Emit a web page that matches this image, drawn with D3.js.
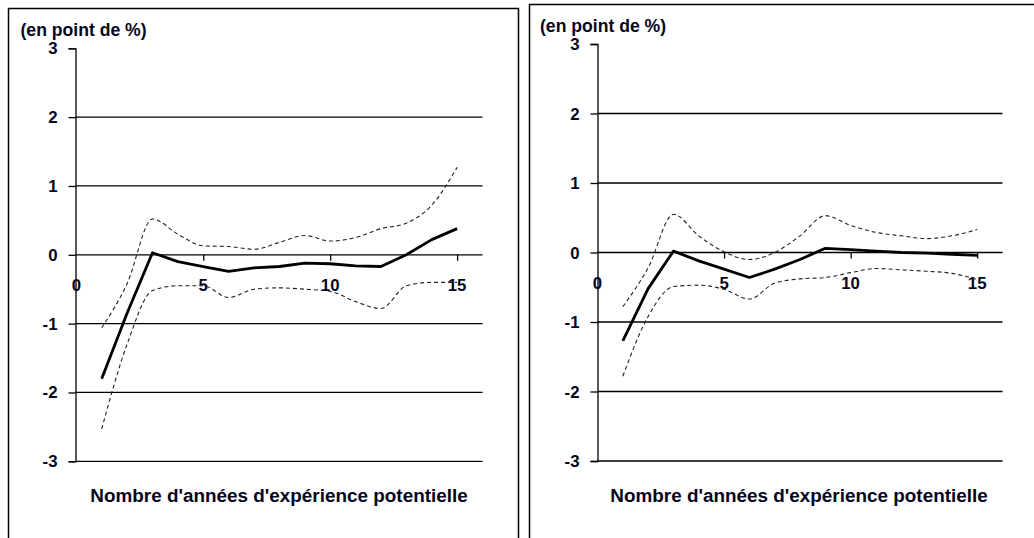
<!DOCTYPE html>
<html>
<head>
<meta charset="utf-8">
<script src="https://cdn.jsdelivr.net/npm/d3@7"></script>
<style>
  html, body { margin: 0; padding: 0; background: #fff; }
  svg { display: block; }
  text { font-family: "Liberation Sans", Arial, sans-serif; font-weight: bold; fill: #05051e; }
</style>
</head>
<body>
<svg id="chart" width="1034" height="538"></svg>
<script>
// ---- data ----
const years = [1, 2, 3, 4, 5, 6, 7, 8, 9, 10, 11, 12, 13, 14, 15];
const xTicks = [0, 5, 10, 15];
const yTicks = [-3, -2, -1, 0, 1, 2, 3];
const unitLabel = "(en point de %)";
const xAxisTitle = "Nombre d'années d'expérience potentielle";

const leftCentral = [-1.8, -0.85, 0.03, -0.1, -0.17, -0.24, -0.19, -0.17, -0.12, -0.13, -0.16, -0.17, 0.0, 0.22, 0.38];
const leftUpper   = [-1.06, -0.42, 0.52, 0.3, 0.13, 0.12, 0.08, 0.18, 0.28, 0.2, 0.25, 0.38, 0.46, 0.72, 1.27];
const leftLower   = [-2.53, -1.3, -0.52, -0.45, -0.45, -0.62, -0.5, -0.48, -0.5, -0.53, -0.68, -0.78, -0.45, -0.4, -0.4];

const rightCentral = [-1.27, -0.52, 0.02, -0.12, -0.24, -0.36, -0.24, -0.1, 0.06, 0.04, 0.02, 0.0, -0.01, -0.025, -0.04];
const rightUpper   = [-0.78, -0.22, 0.55, 0.24, 0.01, -0.1, 0.0, 0.24, 0.53, 0.39, 0.29, 0.24, 0.2, 0.24, 0.33];
const rightLower   = [-1.78, -0.92, -0.49, -0.47, -0.53, -0.67, -0.44, -0.38, -0.36, -0.29, -0.23, -0.25, -0.27, -0.3, -0.39];

const svg = d3.select("#chart");

// panel frames
svg.append("path").attr("d", "M8.5,545 V8.5 H518.5 V545")
  .attr("fill", "none").attr("stroke", "#000").attr("stroke-width", 1.5);
svg.append("path").attr("d", "M529.5,545 V4.5 H1040")
  .attr("fill", "none").attr("stroke", "#000").attr("stroke-width", 1.5);

function drawPanel(cfg, central, upper, lower) {
  const g = svg.append("g");
  const x = d3.scaleLinear().domain([0, 16]).range([cfg.x0, cfg.x1]);
  const y = d3.scaleLinear().domain([-3, 3]).range([cfg.yBottom, cfg.yTop]);
  const ax = Math.round(x(0)) - 0.5;

  // horizontal gridlines (except top)
  g.selectAll("line.grid").data(yTicks.filter(d => d !== 3)).enter().append("line")
    .attr("x1", ax).attr("x2", x(16))
    .attr("y1", d => y(d)).attr("y2", d => y(d))
    .attr("stroke", "#000").attr("stroke-width", 1.3);

  // y axis with ticks
  const yAxis = d3.axisLeft(y).tickValues(yTicks).tickSize(7).tickFormat("");
  const ya = g.append("g").attr("transform", `translate(${ax},0)`).call(yAxis);
  ya.select(".domain").attr("stroke", "#000").attr("stroke-width", 1.3);
  ya.selectAll(".tick line").attr("stroke", "#000").attr("stroke-width", 1.3);

  // y tick labels
  g.selectAll("text.ylab").data(yTicks).enter().append("text")
    .attr("x", ax - 18).attr("y", d => y(d) + 6)
    .attr("text-anchor", "end").attr("font-size", 16.8).text(d => d);

  // x ticks on zero line
  const xAxis = d3.axisBottom(x).tickValues(xTicks.filter(d => d !== 0)).tickSize(6).tickFormat("");
  const xa = g.append("g").attr("transform", `translate(0,${y(0)})`).call(xAxis);
  xa.select(".domain").remove();
  xa.selectAll(".tick line").attr("stroke", "#000").attr("stroke-width", 1.3);

  // x tick labels
  g.selectAll("text.xlab").data(xTicks).enter().append("text")
    .attr("x", d => x(d)).attr("y", y(0) + 36)
    .attr("text-anchor", "middle").attr("font-size", 16.8).text(d => d);

  // lines
  const dashed = d3.line().x((d, i) => x(years[i])).y(d => y(d)).curve(d3.curveMonotoneX);
  const solid = d3.line().x((d, i) => x(years[i])).y(d => y(d));
  [upper, lower].forEach(arr => {
    g.append("path").attr("d", dashed(arr)).attr("fill", "none")
      .attr("stroke", "#222").attr("stroke-width", 1.1).attr("stroke-dasharray", "4,3");
  });
  g.append("path").attr("d", solid(central)).attr("fill", "none")
    .attr("stroke", "#000").attr("stroke-width", 2.8).attr("stroke-linejoin", "round");

  // unit label
  g.append("text").attr("x", cfg.titleX).attr("y", cfg.yTop - 12)
    .attr("font-size", 17.6).text(unitLabel);

  // x axis title
  g.append("text").attr("x", cfg.xTitleX).attr("y", 502)
    .attr("text-anchor", "middle").attr("font-size", 18.9).text(xAxisTitle);
}

drawPanel({ x0: 76.3, x1: 482.5, yTop: 48.3, yBottom: 461.3, titleX: 20.5, xTitleX: 279 },
  leftCentral, leftUpper, leftLower);
drawPanel({ x0: 597.5, x1: 1002.5, yTop: 44, yBottom: 461, titleX: 540, xTitleX: 799 },
  rightCentral, rightUpper, rightLower);
</script>
</body>
</html>
